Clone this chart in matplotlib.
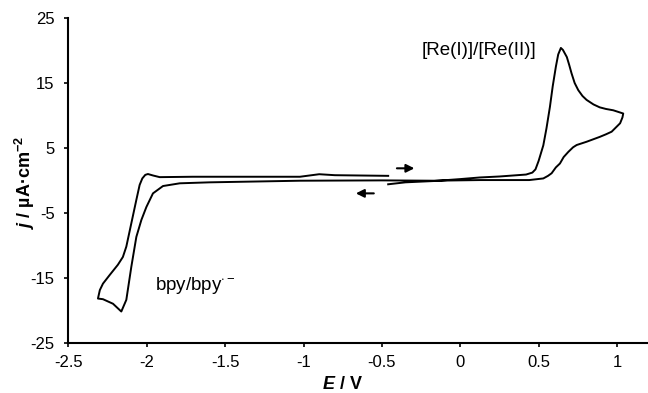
import matplotlib
matplotlib.use("Agg")
import matplotlib.pyplot as plt

plt.rcParams['font.family'] = ['Liberation Sans', 'DejaVu Sans']
plt.rcParams['mathtext.fontset'] = 'custom'
plt.rcParams['mathtext.rm'] = 'Liberation Sans'
plt.rcParams['mathtext.bf'] = 'Liberation Sans:bold'
plt.rcParams['mathtext.it'] = 'Liberation Sans:italic:bold'
plt.rcParams['axes.unicode_minus'] = False

# anodic sweep, -0.46 V -> +1.04 V
E_fwd = [-0.46, -0.35, -0.17, 0.0, 0.125, 0.25, 0.42, 0.46, 0.48, 0.50, 0.53,
         0.55, 0.572, 0.59, 0.61, 0.625, 0.642, 0.655, 0.68, 0.695, 0.71, 0.73,
         0.753, 0.78, 0.806, 0.85, 0.89, 0.93, 0.976, 1.04]
j_fwd = [-0.6, -0.3, -0.1, 0.2, 0.45, 0.6, 0.9, 1.2, 1.7, 3.0, 5.4,
         8.0, 11.3, 14.5, 17.5, 19.4, 20.4, 20.1, 19.0, 17.8, 16.5, 15.0,
         13.9, 13.0, 12.4, 11.7, 11.25, 11.0, 10.8, 10.3]

# cathodic sweep, +1.04 V -> -2.31 V
E_rev = [1.04, 1.035, 1.02, 0.966, 0.93, 0.89, 0.806, 0.743, 0.72, 0.69, 0.66,
         0.636, 0.61, 0.583, 0.56, 0.53, 0.44, 0.125, -0.17, -0.5, -1.02, -1.6,
         -1.79, -1.897, -1.961, -2.003, -2.035, -2.067, -2.099, -2.131, -2.163,
         -2.216, -2.28, -2.312]
j_rev = [10.3, 9.7, 8.8, 7.5, 7.1, 6.7, 5.95, 5.45, 5.1, 4.4, 3.6,
         2.6, 2.0, 1.1, 0.7, 0.3, 0.05, 0.05, -0.05, 0.0, -0.05, -0.3,
         -0.45, -0.87, -2.0, -4.1, -6.1, -8.7, -13.3, -18.4, -20.2,
         -19.0, -18.3, -18.2]

# return sweep, -2.31 V -> -0.46 V
E_ret = [-2.312, -2.30, -2.28, -2.238, -2.185, -2.153, -2.131, -2.099, -2.067,
         -2.046, -2.029, -2.01, -1.993, -1.96, -1.918, -1.706, -1.023, -0.9,
         -0.8, -0.46]
j_ret = [-18.2, -16.9, -15.9, -14.6, -13.0, -11.8, -10.2, -6.6, -3.0,
         -0.7, 0.3, 0.85, 0.98, 0.75, 0.5, 0.56, 0.56, 0.95,
         0.8, 0.7]

xticks = [-2.5, -2, -1.5, -1, -0.5, 0, 0.5, 1]
xticklabels = ['-2.5', '-2', '-1.5', '-1', '-0.5', '0', '0.5', '1']
yticks = [-25, -15, -5, 5, 15, 25]

fig = plt.figure(figsize=(6.48, 3.93), dpi=100)
ax = fig.add_axes([0.1057, 0.128, 0.8943, 0.826])

E = E_fwd + E_rev[1:] + E_ret[1:]
j = j_fwd + j_rev[1:] + j_ret[1:]
ax.plot(E, j, color='black', lw=1.4, solid_joinstyle='round')

ax.set_xlim(-2.5, 1.198)
ax.set_ylim(-25, 25)
ax.set_xticks(xticks)
ax.set_xticklabels(xticklabels)
ax.set_yticks(yticks)
ax.tick_params(direction='out', length=3, width=1.2, labelsize=12, color='black')
ax.tick_params(axis='x', pad=6)
ax.tick_params(axis='y', pad=7)

for side in ['top', 'right']:
    ax.spines[side].set_visible(False)
for side in ['left', 'bottom']:
    ax.spines[side].set_linewidth(1.5)

ax.set_xlabel(r'$E$ / V', fontsize=13, fontweight='bold')
ax.xaxis.set_label_coords(0.472, -0.13)
ax.xaxis.label.set_verticalalignment('center')
ax.set_ylabel(r'$j$ / µA·cm$^{\mathbf{-2}}$', fontsize=13, fontweight='bold')
ax.yaxis.set_label_coords(-0.075, 0.495)
ax.yaxis.label.set_verticalalignment('center')

ax.text(-0.247, 20.07, '[Re(I)]/[Re(II)]', fontsize=13.5, ha='left', va='center')
ax.text(-1.951, -16.9, r'bpy/bpy$^{\cdot -}$', fontsize=13.5, ha='left', va='baseline')

# scan direction arrows
ax.annotate('', xy=(-0.275, 1.86), xytext=(-0.422, 1.86),
            arrowprops=dict(arrowstyle='-|>', color='black', lw=1.5, mutation_scale=12))
ax.annotate('', xy=(-0.684, -2.0), xytext=(-0.534, -2.0),
            arrowprops=dict(arrowstyle='-|>', color='black', lw=1.5, mutation_scale=12))

fig.savefig('out.png', dpi=100)
